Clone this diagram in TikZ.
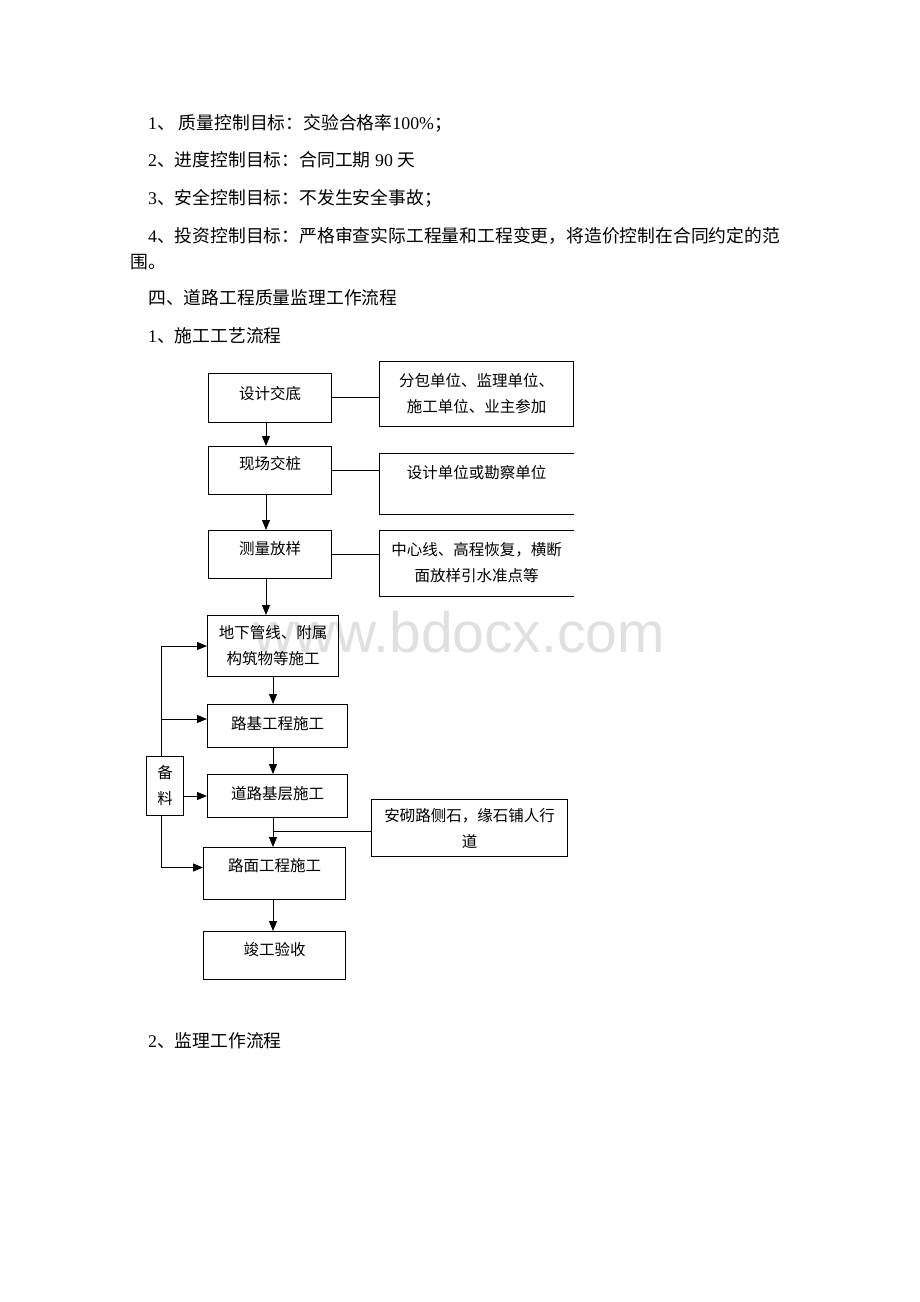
\documentclass[tikz,border=0pt]{standalone}
\usepackage{fontspec}
\setmainfont{Liberation Serif}
\newfontfamily\cjk{Noto Sans CJK SC}
\newfontfamily\wmfont{Liberation Sans}
\usetikzlibrary{arrows.meta}

\tikzset{
    txt/.style={anchor=base west, inner sep=0pt, font=\fontsize{17.8}{21}\selectfont\cjk},
    box/.style={draw, line width=1pt, anchor=north west, inner xsep=0pt, inner ysep=0pt,
        align=center, font=\fontsize{15.5}{26}\selectfont\cjk},
    openbox/.style={box, draw=none},
    conn/.style={line width=1pt},
    arr/.style={line width=1pt, -{Triangle[length=10pt, width=8pt]}},
}

\begin{document}
\begin{tikzpicture}[x=1pt, y=-1pt]
    \useasboundingbox (0, 0) rectangle (920, 1302);

    % watermark
    \node[anchor=base west, inner sep=0pt, text=black!12, font=\fontsize{57}{60}\selectfont\wmfont] (wm) at (253, 652) {www.bdocx.com};

    % body text
    \node[txt] (g1) at (148, 129.5) {{\rmfamily 1}、\ 质量控制目标：交验合格率{\rmfamily 100\%}；};
    \node[txt] (g2) at (148, 166.5) {{\rmfamily 2}、进度控制目标：合同工期{\rmfamily\ 90 }天};
    \node[txt] (g3) at (148, 204.5) {{\rmfamily 3}、安全控制目标：不发生安全事故；};
    \node[txt] (g4) at (148, 242.5) {{\rmfamily 4}、投资控制目标：严格审查实际工程量和工程变更，将造价控制在合同约定的范};
    \node[txt] (g4b) at (130, 268.5) {围。};
    \node[txt] (h4) at (148, 304.5) {四、道路工程质量监理工作流程};
    \node[txt] (h41) at (148, 342.5) {{\rmfamily 1}、施工工艺流程};
    \node[txt] (h42) at (148, 1047.5) {{\rmfamily 2}、监理工作流程};

    % main column
    \node[box, minimum width=123pt, text height=25.5pt, text depth=23pt] (sj) at (208, 373) {设计交底};
    \node[box, minimum width=123pt, text height=22.5pt, text depth=25.5pt] (xz) at (208, 446) {现场交桩};
    \node[box, minimum width=123pt, text height=23.5pt, text depth=24.5pt] (cl) at (208, 530) {测量放样};
    \node[box, minimum width=131pt, minimum height=61pt] (dx) at (207, 615) {地下管线、附属\\构筑物等施工};
    \node[box, minimum width=140pt, text height=24.5pt, text depth=18.5pt] (lj) at (207, 704) {路基工程施工};
    \node[box, minimum width=140pt, text height=24.5pt, text depth=18.5pt] (jc) at (207, 774) {道路基层施工};
    \node[box, minimum width=142pt, text height=23.5pt, text depth=28.5pt] (lm) at (203, 847) {路面工程施工};
    \node[box, minimum width=142pt, text height=23.5pt, text depth=24.5pt] (jg) at (203, 931) {竣工验收};

    % side boxes
    \node[box, minimum width=194pt, minimum height=65pt] (fb) at (379, 361) {分包单位、监理单位、\\施工单位、业主参加};
    \node[openbox, minimum width=194pt, text height=24.5pt, text depth=35.5pt] (dw) at (379, 453) {设计单位或勘察单位};
    \node[openbox, minimum width=194pt, minimum height=65pt] (zx) at (379, 530) {中心线、高程恢复，横断\\面放样引水准点等};
    \node[box, minimum width=196pt, minimum height=57pt] (aq) at (371, 799) {安砌路侧石，缘石铺人行\\道};
    \node[box, minimum width=37pt, minimum height=59pt] (bl) at (146, 756) {备\\料};

    \draw[conn] (dw.north east) -- (dw.north west) -- (dw.south west) -- (dw.south east);
    \draw[conn] (zx.north east) -- (zx.north west) -- (zx.south west) -- (zx.south east);

    % connectors
    \draw[conn] (sj.east) -- (sj.east -| fb.west);
    \draw[conn] (xz.east) -- (xz.east -| dw.west);
    \draw[conn] (cl.east) -- (cl.east -| zx.west);
    \draw[arr] ([xshift=-4pt]sj.south) -- ([xshift=-4pt]sj.south |- xz.north);
    \draw[arr] ([xshift=-4pt]xz.south) -- ([xshift=-4pt]xz.south |- cl.north);
    \draw[arr] ([xshift=-4pt]cl.south) -- ([xshift=-4pt]cl.south |- dx.north);
    \draw[arr] (dx.south) -- (lj.north -| dx.south);
    \draw[arr] (lj.south -| dx.south) -- (jc.north -| dx.south);
    \draw[arr] (jc.south -| dx.south) -- (lm.north -| dx.south);
    \draw[arr] (lm.south -| dx.south) -- (jg.north -| dx.south);
    \draw[conn] ([yshift=-3pt]aq.west) -- ([yshift=-3pt]aq.west -| dx.south);

    % materials feed
    \draw[arr] ([xshift=-4pt]bl.north) |- (dx.west);
    \draw[arr] ([xshift=-4pt]bl.north) |- ([yshift=7pt]lj.west);
    \draw[arr] (bl.east |- jc.west) -- (jc.west);
    \draw[arr] ([xshift=-4pt]bl.south) |- ([yshift=6pt]lm.west);
\end{tikzpicture}
\end{document}
